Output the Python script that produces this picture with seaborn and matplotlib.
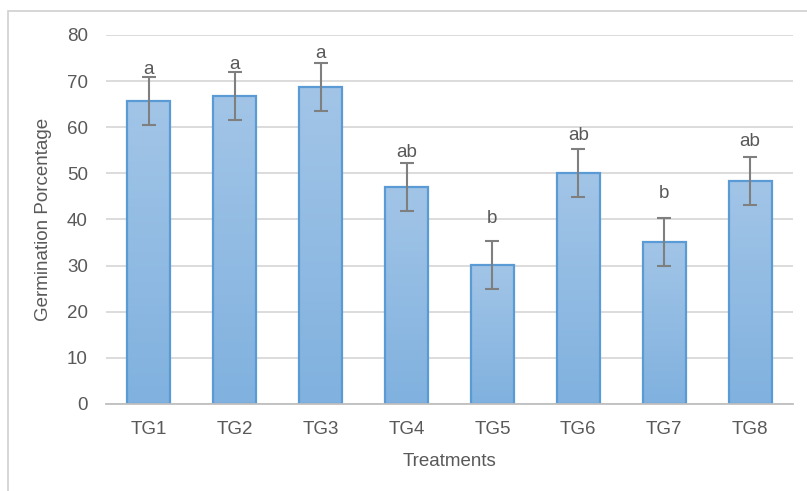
import numpy as np
import pandas as pd
import matplotlib
matplotlib.use("Agg")
import matplotlib.pyplot as plt
import seaborn as sns
from matplotlib.patches import Rectangle
from matplotlib.colors import LinearSegmentedColormap

treatments = ["TG1", "TG2", "TG3", "TG4", "TG5", "TG6", "TG7", "TG8"]
germination = [65.7, 66.8, 68.7, 47.0, 30.1, 50.0, 35.2, 48.3]
errors = [5.2, 5.2, 5.2, 5.2, 5.2, 5.2, 5.2, 5.2]
letters = ["a", "a", "a", "ab", "b", "ab", "b", "ab"]
letter_y = [72.6, 73.7, 75.9, 54.6, 40.3, 58.3, 45.7, 57.0]
yticks = [0, 10, 20, 30, 40, 50, 60, 70, 80]

sns.set_theme(style="white")
plt.rcParams["font.family"] = ["Liberation Sans", "DejaVu Sans"]

df = pd.DataFrame({"Treatments": treatments, "Germination": germination})

fig = plt.figure(figsize=(8.07, 4.91), dpi=100)
ax = fig.add_axes([106 / 807, 1 - 404 / 491, (793 - 106) / 807, (404 - 35) / 491])

sns.barplot(data=df, x="Treatments", y="Germination", ax=ax, color="#9dc3e6",
            width=0.5, edgecolor="#5b9bd5", linewidth=1.6, zorder=2)

ax.set_ylim(0, 80)
ax.set_xlim(-0.5, len(treatments) - 0.5)

# gradient fill inside each bar
cmap = LinearSegmentedColormap.from_list("g", ["#80b1df", "#a2c5e7"])
grad = np.linspace(0, 1, 256).reshape(-1, 1)
for p in ax.patches:
    x0, y0 = p.get_x(), p.get_y()
    w, h = p.get_width(), p.get_height()
    im = ax.imshow(grad, cmap=cmap, aspect="auto", origin="lower",
                   extent=[x0, x0 + w, y0, y0 + h], zorder=2.1)
    im.set_clip_path(p)
    p.set_zorder(2.2)
    p.set_facecolor("none")

ax.errorbar(x=np.arange(len(treatments)), y=germination, yerr=errors,
            fmt="none", ecolor="#7f7f7f", elinewidth=1.5, capsize=5,
            capthick=1.5, zorder=3)

for i, (lt, ly) in enumerate(zip(letters, letter_y)):
    ax.text(i, ly, lt, ha="center", va="center", fontsize=13.5, color="#595959")

ax.set_yticks(yticks)
ax.yaxis.grid(True, color="#d9d9d9", linewidth=1.3, zorder=0)
ax.set_axisbelow(True)
for s in ["top", "right", "left"]:
    ax.spines[s].set_visible(False)
ax.spines["bottom"].set_color("#bfbfbf")
ax.spines["bottom"].set_linewidth(1.3)
ax.tick_params(axis="both", length=0, labelsize=13.5, colors="#595959")
ax.tick_params(axis="y", pad=13)
ax.tick_params(axis="x", pad=12)
ax.set_xlabel("Treatments", fontsize=13.5, color="#595959", labelpad=11)
ax.set_ylabel("Germination Porcentage", fontsize=13.5, color="#595959", labelpad=11)

fig.patches.append(Rectangle((8 / 807, -0.01), 1.0, 1 - 11 / 491 + 0.01,
                             transform=fig.transFigure, fill=False,
                             edgecolor="#d0d0d0", linewidth=1.2))

fig.savefig("out.png", dpi=100)
